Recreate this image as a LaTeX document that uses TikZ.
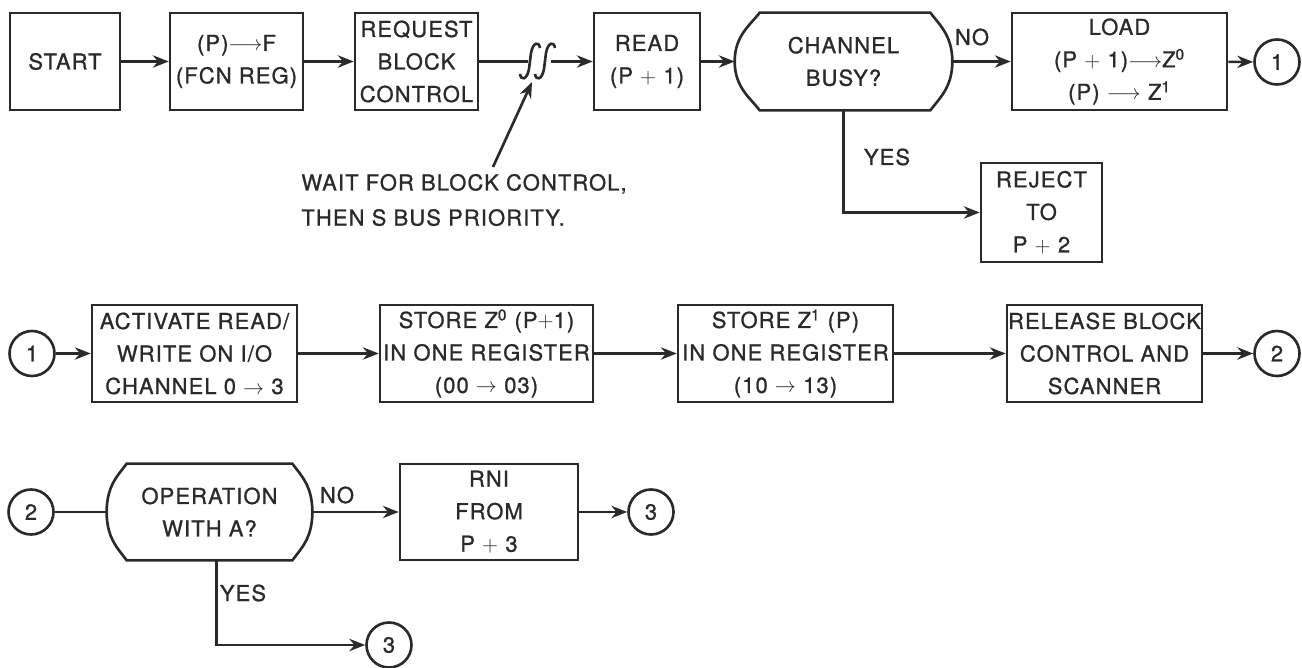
\documentclass[tikz,border=0pt]{standalone}
\usepackage{fontspec}
\newfontfamily\hv[LetterSpace=5,FakeBold=1]{TeX Gyre Heros}
\usetikzlibrary{arrows.meta,calc}
\definecolor{ink}{HTML}{2A2A2A}
\newcommand\decshape[3]{%
 \draw[ln] ($(#1.north west)+(#2,0)$) -- ($(#1.north east)+(-#3,0)$)
   .. controls ($(#1.north east)+(-#3+9,12)$) and ($(#1.east)+(0,-26)$) .. (#1.east)
   .. controls ($(#1.east)+(0,26)$) and ($(#1.south east)+(-#3+9,-12)$) .. ($(#1.south east)+(-#3,0)$)
   -- ($(#1.south west)+(#2,0)$)
   .. controls ($(#1.south west)+(#2-9,-12)$) and ($(#1.west)+(0,26)$) .. (#1.west)
   .. controls ($(#1.west)+(0,-26)$) and ($(#1.north west)+(#2-9,12)$) .. cycle;}
\begin{document}
\begin{tikzpicture}[x=0.02cm,y=-0.02cm,
  every node/.style={text=ink, font=\hv\fontsize{12.5}{18.5}\selectfont},
  ln/.style={draw=ink,line width=1.5pt},
  arr/.style={ln,-{Stealth[length=9pt,width=7pt]}},
  box/.style={ln,rectangle,align=center,inner sep=0pt,minimum height=1.94cm},
  conn/.style={ln,circle,inner sep=0pt,minimum size=0.9cm},
  lbl/.style={inner sep=0pt},
  dec/.style={rectangle,align=center,inner sep=0pt,minimum height=1.94cm},
]
\useasboundingbox (0,0) rectangle (1302,668);
% top row
\node[box,minimum width=2.2cm] (start) at (65,61.5) {START};
\node[box,minimum width=2.66cm] (fcn) at (236.5,61.5) {(P)$\longrightarrow$F\\(FCN REG)};
\node[box,minimum width=2.46cm] (req) at (416.5,61.5) {REQUEST\\BLOCK\\CONTROL};
\node[box,minimum width=2.12cm] (read) at (647,61.5) {READ\\(P $+$ 1)};
\node[dec,minimum width=4.34cm] (chan) at (843.5,61.5) {CHANNEL\\BUSY?};
\decshape{chan}{25}{22}
\node[box,minimum width=4.3cm] (load) at (1119.5,61.5) {LOAD\\(P $+$ 1)$\longrightarrow$Z\textsuperscript{0}\\(P) $\longrightarrow$ Z\textsuperscript{1}};
\node[conn] (c1a) at (1277,62) {1};
\node[box,minimum width=2.42cm,minimum height=1.98cm] (rej) at (1041.5,212.5) {REJECT\\TO\\P $+$ 2};
\node[lbl] at (972,37) {NO};
\node[lbl] at (887,157) {YES};
\node[lbl,align=left,anchor=east,font=\hv\fontsize{12.5}{20}\selectfont] (note) at (627,200) {WAIT FOR BLOCK CONTROL,\\THEN S BUS PRIORITY.};
% wait symbol
\coordinate (jl) at (528,61.5);
\coordinate (jr) at (551,61.5);
\coordinate (jb) at (532,82);
\coordinate (nt) at (493,167);
\foreach \cx in {530,545}{
  \draw[ln] (\cx-10,74) .. controls (\cx-9,81) and (\cx-3,80) .. (\cx-1,69) -- (\cx+1,53)
     .. controls (\cx+3,42) and (\cx+9,41) .. (\cx+10,48);
}
\draw[arr] (start) -- (fcn);
\draw[arr] (fcn) -- (req);
\draw[ln] (req) -- (jl);
\draw[arr] (jr) -- (read);
\draw[arr] (read) -- (chan.west);
\draw[arr] (chan.east) -- (load);
\draw[arr] (load) -- (c1a);
\draw[arr] (chan.south) |- (rej);
\draw[arr] (nt) -- (jb);
% middle row
\node[conn] (c1b) at (32,353.5) {1};
\node[box,minimum width=4.1cm] (act) at (194.5,353.5) {ACTIVATE READ/\\WRITE ON I/O\\CHANNEL 0 $\rightarrow$ 3};
\node[box,minimum width=4.26cm] (st0) at (486.5,353.5) {STORE Z\textsuperscript{0} (P$+$1)\\IN ONE REGISTER\\(00 $\rightarrow$ 03)};
\node[box,minimum width=4.3cm] (st1) at (785.5,353.5) {STORE Z\textsuperscript{1} (P)\\IN ONE REGISTER\\(10 $\rightarrow$ 13)};
\node[box,minimum width=3.9cm] (rel) at (1104.5,353.5) {RELEASE BLOCK\\CONTROL AND\\SCANNER};
\node[conn] (c2a) at (1277,353.5) {2};
\draw[arr] (c1b) -- (act);
\draw[arr] (act) -- (st0);
\draw[arr] (st0) -- (st1);
\draw[arr] (st1) -- (rel);
\draw[arr] (rel) -- (c2a);
% bottom row
\node[conn] (c2b) at (31,512) {2};
\node[dec,minimum width=4.1cm,minimum height=1.92cm] (op) at (209.5,512) {OPERATION\\WITH A?};
\decshape{op}{20}{20}
\node[box,minimum width=3.56cm,minimum height=1.92cm] (rni) at (489,512) {RNI\\FROM\\P $+$ 3};
\node[conn] (c3a) at (651,512) {3};
\node[conn] (c3b) at (389,645) {3};
\node[lbl] at (337,495) {NO};
\node[lbl] at (243,593) {YES};
\draw[ln] (c2b) -- (op.west);
\draw[arr] (op.east) -- (rni);
\draw[arr] (rni) -- (c3a);
\draw[arr] ($(op.south)+(7,0)$) |- (c3b);
\end{tikzpicture}
\end{document}
